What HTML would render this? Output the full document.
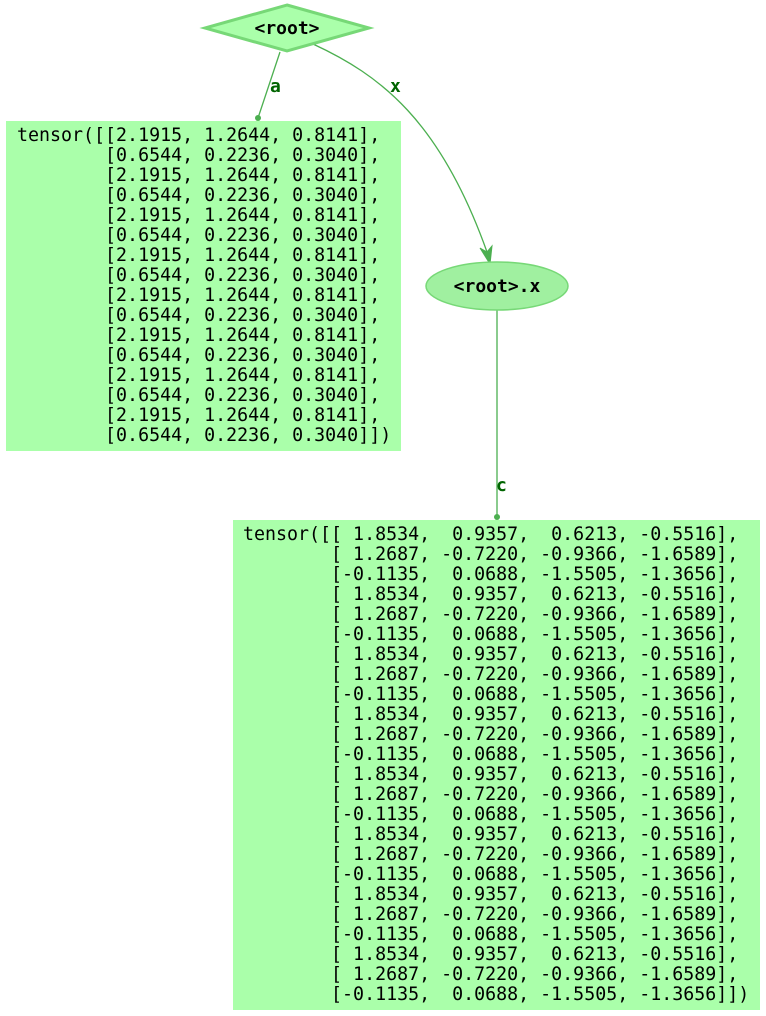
<!DOCTYPE html>
<html><head><meta charset="utf-8"><style>
html,body{margin:0;padding:0;background:#fff;}
svg{display:block;}
.m{font-family:"DejaVu Sans Mono","Liberation Mono",monospace;font-size:18.3px;fill:#000;white-space:pre;}
.b{font-family:"DejaVu Sans Mono","Liberation Mono",monospace;font-size:18px;font-weight:bold;fill:#000;}
.l{font-family:"DejaVu Sans Mono","Liberation Mono",monospace;font-size:18px;font-weight:bold;fill:#006400;}
</style></head><body>
<svg width="766" height="1016" viewBox="0 0 766 1016" xmlns="http://www.w3.org/2000/svg" xml:space="preserve">
<g stroke="#4caf50" stroke-width="1.3" fill="none">
<path d="M280,52 L258,118"/>
<path d="M313,44 C380,75 440,120 487,252"/>
<path d="M497,310 L497,516"/>
</g>
<circle cx="258" cy="118" r="3" fill="#4caf50"/>
<circle cx="497" cy="517" r="3" fill="#4caf50"/>
<polygon points="480,248 490,264 492,246 487,252" fill="#4caf50" stroke="#4caf50"/>
<text class="l" x="270" y="92">a</text>
<text class="l" x="390" y="92">x</text>
<text class="l" x="496" y="491">c</text>
<polygon points="287,5 369,28 287,51 205,28" fill="#aaffaa" stroke="#77d877" stroke-width="3"/>
<text class="b" x="287" y="34" text-anchor="middle">&lt;root&gt;</text>
<ellipse cx="497" cy="286" rx="71" ry="24" fill="#a0f0a0" stroke="#77d877" stroke-width="1.5"/>
<text class="b" x="497" y="292" text-anchor="middle">&lt;root&gt;.x</text>
<rect x="6" y="121" width="395" height="330" fill="#aaffaa"/>
<text class="m" x="17" y="141">tensor([[2.1915, 1.2644, 0.8141],</text>
<text class="m" x="17" y="161">        [0.6544, 0.2236, 0.3040],</text>
<text class="m" x="17" y="181">        [2.1915, 1.2644, 0.8141],</text>
<text class="m" x="17" y="201">        [0.6544, 0.2236, 0.3040],</text>
<text class="m" x="17" y="221">        [2.1915, 1.2644, 0.8141],</text>
<text class="m" x="17" y="241">        [0.6544, 0.2236, 0.3040],</text>
<text class="m" x="17" y="261">        [2.1915, 1.2644, 0.8141],</text>
<text class="m" x="17" y="281">        [0.6544, 0.2236, 0.3040],</text>
<text class="m" x="17" y="301">        [2.1915, 1.2644, 0.8141],</text>
<text class="m" x="17" y="321">        [0.6544, 0.2236, 0.3040],</text>
<text class="m" x="17" y="341">        [2.1915, 1.2644, 0.8141],</text>
<text class="m" x="17" y="361">        [0.6544, 0.2236, 0.3040],</text>
<text class="m" x="17" y="381">        [2.1915, 1.2644, 0.8141],</text>
<text class="m" x="17" y="401">        [0.6544, 0.2236, 0.3040],</text>
<text class="m" x="17" y="421">        [2.1915, 1.2644, 0.8141],</text>
<text class="m" x="17" y="441">        [0.6544, 0.2236, 0.3040]])</text>
<rect x="233" y="520" width="527" height="490" fill="#aaffaa"/>
<text class="m" x="243" y="540">tensor([[ 1.8534,  0.9357,  0.6213, -0.5516],</text>
<text class="m" x="243" y="560">        [ 1.2687, -0.7220, -0.9366, -1.6589],</text>
<text class="m" x="243" y="580">        [-0.1135,  0.0688, -1.5505, -1.3656],</text>
<text class="m" x="243" y="600">        [ 1.8534,  0.9357,  0.6213, -0.5516],</text>
<text class="m" x="243" y="620">        [ 1.2687, -0.7220, -0.9366, -1.6589],</text>
<text class="m" x="243" y="640">        [-0.1135,  0.0688, -1.5505, -1.3656],</text>
<text class="m" x="243" y="660">        [ 1.8534,  0.9357,  0.6213, -0.5516],</text>
<text class="m" x="243" y="680">        [ 1.2687, -0.7220, -0.9366, -1.6589],</text>
<text class="m" x="243" y="700">        [-0.1135,  0.0688, -1.5505, -1.3656],</text>
<text class="m" x="243" y="720">        [ 1.8534,  0.9357,  0.6213, -0.5516],</text>
<text class="m" x="243" y="740">        [ 1.2687, -0.7220, -0.9366, -1.6589],</text>
<text class="m" x="243" y="760">        [-0.1135,  0.0688, -1.5505, -1.3656],</text>
<text class="m" x="243" y="780">        [ 1.8534,  0.9357,  0.6213, -0.5516],</text>
<text class="m" x="243" y="800">        [ 1.2687, -0.7220, -0.9366, -1.6589],</text>
<text class="m" x="243" y="820">        [-0.1135,  0.0688, -1.5505, -1.3656],</text>
<text class="m" x="243" y="840">        [ 1.8534,  0.9357,  0.6213, -0.5516],</text>
<text class="m" x="243" y="860">        [ 1.2687, -0.7220, -0.9366, -1.6589],</text>
<text class="m" x="243" y="880">        [-0.1135,  0.0688, -1.5505, -1.3656],</text>
<text class="m" x="243" y="900">        [ 1.8534,  0.9357,  0.6213, -0.5516],</text>
<text class="m" x="243" y="920">        [ 1.2687, -0.7220, -0.9366, -1.6589],</text>
<text class="m" x="243" y="940">        [-0.1135,  0.0688, -1.5505, -1.3656],</text>
<text class="m" x="243" y="960">        [ 1.8534,  0.9357,  0.6213, -0.5516],</text>
<text class="m" x="243" y="980">        [ 1.2687, -0.7220, -0.9366, -1.6589],</text>
<text class="m" x="243" y="1000">        [-0.1135,  0.0688, -1.5505, -1.3656]])</text>
</svg>
</body></html>
